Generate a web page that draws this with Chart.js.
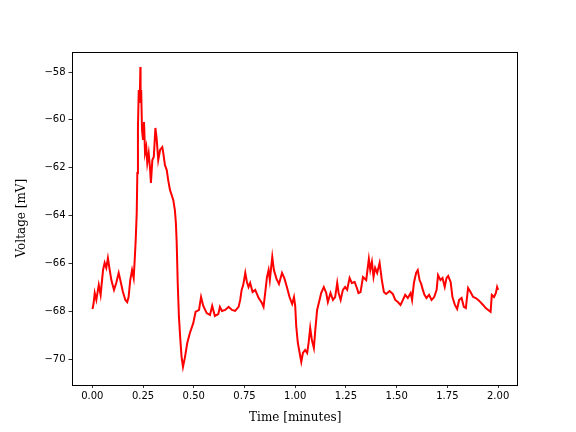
<!DOCTYPE html>
<html>
<head>
<meta charset="utf-8">
<script src="https://cdn.jsdelivr.net/npm/chart.js@4"></script>
<style>
  html, body { margin: 0; padding: 0; background: #fff; }
  #wrap { width: 576px; height: 432px; position: relative; }
</style>
</head>
<body>
<div id="wrap"><canvas id="chart"></canvas></div>
<script>
// time in minutes, voltage in mV
const timeMin = [
  0.001, 0.006, 0.012, 0.020, 0.032, 0.041, 0.053, 0.061, 0.069, 0.077,
  0.086, 0.094, 0.107, 0.118, 0.130, 0.138, 0.151, 0.163, 0.172, 0.179,
  0.187, 0.196, 0.204, 0.209, 0.214, 0.219, 0.222, 0.225, 0.229, 0.234,
  0.237, 0.238, 0.241, 0.245, 0.250, 0.255, 0.260, 0.266, 0.271, 0.278,
  0.284, 0.289, 0.296, 0.303, 0.307, 0.311, 0.317, 0.325, 0.334, 0.345,
  0.350, 0.358, 0.367, 0.374, 0.383, 0.391, 0.399, 0.407, 0.412, 0.416,
  0.421, 0.427, 0.434, 0.440, 0.447, 0.457, 0.468, 0.481, 0.498, 0.509,
  0.526, 0.536, 0.547, 0.564, 0.580, 0.591, 0.604, 0.621, 0.629, 0.639,
  0.655, 0.672, 0.688, 0.704, 0.721, 0.729, 0.736, 0.744, 0.754, 0.762,
  0.770, 0.778, 0.790, 0.803, 0.820, 0.836, 0.844, 0.852, 0.861, 0.869,
  0.875, 0.887, 0.895, 0.908, 0.920, 0.935, 0.946, 0.959, 0.972, 0.985,
  0.994, 1.000, 1.005, 1.013, 1.022, 1.030, 1.038, 1.049, 1.059, 1.066,
  1.074, 1.082, 1.092, 1.099, 1.108, 1.120, 1.128, 1.141, 1.153, 1.161,
  1.174, 1.186, 1.197, 1.207, 1.214, 1.224, 1.235, 1.246, 1.256, 1.268,
  1.279, 1.293, 1.304, 1.312, 1.322, 1.334, 1.350, 1.363, 1.370, 1.378,
  1.386, 1.394, 1.404, 1.416, 1.427, 1.437, 1.448, 1.465, 1.481, 1.493,
  1.506, 1.519, 1.531, 1.542, 1.555, 1.569, 1.576, 1.585, 1.596, 1.604,
  1.613, 1.621, 1.629, 1.637, 1.647, 1.660, 1.672, 1.685, 1.697, 1.704,
  1.716, 1.726, 1.737, 1.746, 1.754, 1.766, 1.775, 1.787, 1.798, 1.808,
  1.820, 1.831, 1.841, 1.852, 1.864, 1.877, 1.890, 1.902, 1.913, 1.926,
  1.939, 1.951, 1.963, 1.969, 1.980, 1.989, 1.995, 2.000
];
const voltage = [
  -67.91, -67.70, -67.24, -67.53, -66.90, -67.32, -66.28, -65.98, -66.19, -65.78,
  -66.28, -66.70, -67.11, -66.82, -66.40, -66.70, -67.20, -67.53, -67.62, -67.41,
  -66.70, -66.28, -66.61, -65.86, -65.02, -63.89, -62.22, -60.30, -58.75, -59.17,
  -57.79, -59.30, -58.75, -60.42, -60.84, -60.09, -61.39, -61.14, -61.80, -61.39,
  -61.97, -62.64, -61.68, -61.55, -60.97, -60.34, -60.76, -61.68, -61.26, -61.14,
  -61.39, -61.89, -62.10, -62.52, -62.93, -63.14, -63.35, -63.77, -64.31, -65.15,
  -66.82, -68.24, -69.20, -69.91, -70.33, -69.91, -69.33, -68.91, -68.49, -68.03,
  -67.95, -67.41, -67.78, -68.08, -68.16, -67.78, -68.20, -68.12, -67.82, -67.99,
  -67.95, -67.82, -67.95, -67.99, -67.82, -67.53, -67.11, -66.90, -66.40, -66.78,
  -66.99, -66.82, -67.20, -67.11, -67.45, -67.66, -67.82, -67.24, -66.57, -66.28,
  -66.70, -65.73, -66.28, -66.65, -66.86, -66.40, -66.61, -66.99, -67.41, -67.70,
  -67.41, -67.78, -68.62, -69.33, -69.75, -70.12, -69.75, -69.62, -69.75, -69.33,
  -68.70, -69.20, -69.54, -68.79, -67.95, -67.53, -67.24, -66.99, -67.24, -67.62,
  -67.24, -67.53, -67.41, -66.82, -67.24, -67.53, -67.11, -66.99, -67.11, -66.61,
  -66.82, -66.78, -67.03, -67.24, -67.20, -66.57, -66.70, -65.82, -66.28, -65.94,
  -66.57, -66.19, -66.40, -65.98, -66.70, -67.20, -67.28, -67.16, -67.28, -67.53,
  -67.62, -67.74, -67.53, -67.32, -67.45, -67.24, -67.53, -66.82, -66.40, -66.28,
  -66.70, -66.86, -67.11, -67.32, -67.45, -67.32, -67.53, -67.41, -67.11, -66.49,
  -66.70, -66.61, -66.99, -66.61, -66.53, -66.78, -67.41, -67.74, -67.91, -67.53,
  -67.45, -67.82, -67.87, -67.03, -67.20, -67.41, -67.45, -67.53, -67.62, -67.74,
  -67.87, -67.95, -68.03, -67.32, -67.41, -67.24, -66.99, -67.11
];
const xTicks = [0, 0.25, 0.5, 0.75, 1.0, 1.25, 1.5, 1.75, 2.0];
const yTicks = [-70, -68, -66, -64, -62, -60, -58];

Chart.defaults.color = "#000";
Chart.defaults.font.family = "'DejaVu Sans'";
Chart.defaults.font.size = 10;

// matplotlib style box round the plot
const frame = {
  id: "frame",
  afterDraw(c) {
    const { left, top, right, bottom } = c.chartArea;
    const ctx = c.ctx;
    ctx.save();
    ctx.strokeStyle = "#000";
    ctx.lineWidth = 1;
    ctx.strokeRect(Math.round(left) + 0.5, Math.round(top) + 0.5,
      Math.round(right - left) - 1, Math.round(bottom - top));
    ctx.restore();
  },
};

const points = timeMin.map((t, i) => ({ x: t, y: voltage[i] }));

new Chart(document.getElementById("chart"), {
  type: "line",
  data: {
    datasets: [
      {
        data: points,
        borderColor: "#ff0000",
        borderWidth: 2,
        pointRadius: 0,
        tension: 0,
        fill: false,
      },
    ],
  },
  options: {
    responsive: true,
    maintainAspectRatio: false,
    animation: false,
    events: [],
    layout: { padding: { left: 0, top: 51.84, right: 57.6, bottom: 0 } },
    plugins: { legend: { display: false }, tooltip: { enabled: false } },
    scales: {
      x: {
        type: "linear",
        min: -0.1,
        max: 2.1,
        afterFit: (s) => { s.height = 47.5; },
        afterBuildTicks: (s) => { s.ticks = xTicks.map((v) => ({ value: v })); },
        ticks: {
          padding: 2,
          maxRotation: 0,
          callback: (v) => Number(v).toFixed(2),
        },
        grid: {
          drawOnChartArea: false,
          drawTicks: true,
          tickLength: 3.5,
          color: "#000",
          lineWidth: 0.8,
        },
        border: { display: false },
        title: {
          display: true,
          text: "Time [minutes]",
          font: { family: "'DejaVu Serif'", size: 12 },
          padding: { top: 0, bottom: 6.5 },
        },
      },
      y: {
        type: "linear",
        min: -71.066,
        max: -57.157,
        afterFit: (s) => { s.width = 72; },
        afterBuildTicks: (s) => { s.ticks = yTicks.map((v) => ({ value: v })); },
        ticks: {
          padding: 3,
          callback: (v) => String(v).replace("-", "\u2212"),
        },
        grid: {
          drawOnChartArea: false,
          drawTicks: true,
          tickLength: 3.5,
          color: "#000",
          lineWidth: 0.8,
        },
        border: { display: false },
        title: {
          display: true,
          text: "Voltage [mV]",
          font: { family: "'DejaVu Serif'", size: 12 },
          padding: { top: 14.3, bottom: 0 },
        },
      },
    },
  },
  plugins: [frame],
});
</script>
</body>
</html>
